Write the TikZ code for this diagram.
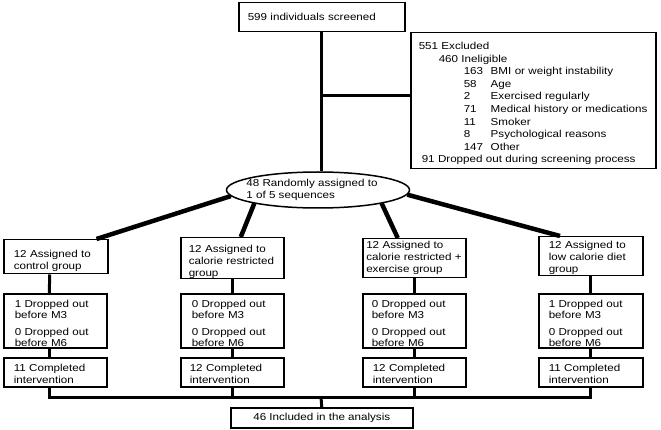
\documentclass[tikz,border=0pt]{standalone}
\usepackage{fontspec}
\setmainfont[FakeStretch=1.15]{Liberation Sans}
\usetikzlibrary{shapes.geometric,calc}
\newcommand\topgap[1]{\rule{0pt}{#1}}
\begin{document}
\begin{tikzpicture}[x=1pt,y=-1pt,
  bx/.style={draw, line width=1.5pt, rectangle, anchor=north west, align=left,
    inner ysep=0pt, font=\fontsize{10.1}{12}\selectfont},
  drop/.style={bx, minimum height=54pt, font=\fontsize{10.1}{11}\selectfont},
  comp/.style={bx, minimum height=29pt},
  conn/.style={line width=3pt},
  diag/.style={line width=4.5pt}]
\useasboundingbox (0,0) rectangle (661,430);

% top
\node[bx, minimum width=166pt, minimum height=29pt, inner xsep=9pt, text width=148pt] (top) at (238,2) {599 individuals screened};

% excluded
\node[bx, minimum width=245pt, minimum height=136pt, inner xsep=8pt, text width=229pt,
  font=\fontsize{10.1}{12.6}\selectfont] (excl) at (410,32) {\topgap{13pt}551 Excluded\\
\hspace*{20pt}460 Ineligible\\
\hspace*{45pt}\makebox[27pt][l]{163}BMI or weight instability\\
\hspace*{45pt}\makebox[27pt][l]{58}Age\\
\hspace*{45pt}\makebox[27pt][l]{2}Exercised regularly\\
\hspace*{45pt}\makebox[27pt][l]{71}Medical history or medications\\
\hspace*{45pt}\makebox[27pt][l]{11}Smoker\\
\hspace*{45pt}\makebox[27pt][l]{8}Psychological reasons\\
\hspace*{45pt}\makebox[27pt][l]{147}Other\\
\hspace*{3pt}91 Dropped out during screening process};

% randomisation
\node[draw, ellipse, line width=1.5pt, minimum width=183pt, minimum height=36pt, inner sep=0pt] (rand) at (318,190) {};
\node[align=left, inner sep=0pt, font=\fontsize{10.1}{12}\selectfont] (randtxt) at ([xshift=-6pt]rand.center) {48 Randomly assigned to\\1 of 5 sequences};

% assigned
\node[bx, minimum width=104pt, minimum height=34pt, inner xsep=10pt, text width=84pt] (a1) at (3,239) {\topgap{16.5pt}12 Assigned to\\control group};
\node[bx, minimum width=103pt, minimum height=38pt, inner xsep=8pt, text width=87pt] (a2) at (180,237) {\topgap{14.5pt}12 Assigned to\\calorie restricted\\group};
\node[bx, minimum width=103pt, minimum height=39pt, inner xsep=3.5pt, text width=96pt] (a3) at (362,238) {12 Assigned to\\calorie restricted +\\exercise group};
\node[bx, minimum width=104pt, minimum height=39pt, inner xsep=10pt, text width=84pt] (a4) at (538,236) {\topgap{10pt}12 Assigned to\\low calorie diet\\group};

% dropped
\node[drop, minimum width=103pt, inner xsep=11pt, text width=81pt] (d1) at (3,293) {\topgap{13pt}1 Dropped out\\before M3\\[6pt]0 Dropped out\\before M6};
\node[drop, minimum width=103pt, inner xsep=11pt, text width=81pt] (d2) at (180,293) {\topgap{13pt}0 Dropped out\\before M3\\[6pt]0 Dropped out\\before M6};
\node[drop, minimum width=103pt, inner xsep=9pt, text width=85pt] (d3) at (362,293) {\topgap{13pt}0 Dropped out\\before M3\\[6pt]0 Dropped out\\before M6};
\node[drop, minimum width=104pt, inner xsep=10pt, text width=84pt] (d4) at (538,293) {\topgap{13pt}1 Dropped out\\before M3\\[6pt]0 Dropped out\\before M6};

% completed
\node[comp, minimum width=103pt, inner xsep=10pt, text width=83pt] (c1) at (3,357) {\topgap{10.5pt}11 Completed\\intervention};
\node[comp, minimum width=103pt, inner xsep=9pt, text width=85pt] (c2) at (180,357) {\topgap{10.5pt}12 Completed\\intervention};
\node[comp, minimum width=103pt, inner xsep=10pt, text width=83pt] (c3) at (362,357) {\topgap{10.5pt}12 Completed\\intervention};
\node[comp, minimum width=104pt, inner xsep=10pt, text width=84pt] (c4) at (538,357) {\topgap{10.5pt}11 Completed\\intervention};

% final
\node[bx, minimum width=182pt, minimum height=20pt, align=center] (final) at (230,407) {46 Included in the analysis};

% connectors
\coordinate (j1) at (321,96);
\coordinate (hb) at (321,397);
\draw[conn] (top.south) -- (top.south |- rand.north);
\draw[conn] (j1) -- (j1 -| excl.west);

\draw[diag] (rand.184) -- ([xshift=-12pt]a1.north east);
\draw[diag] (rand.192) -- ([xshift=8.5pt]a2.north);
\draw[diag] (rand.348) -- ([xshift=-16.5pt]a3.north);
\draw[diag] (rand.357) -- ([xshift=22pt]a4.north west);

\draw[conn] ([xshift=-6pt]a1.south) -- ([xshift=-6pt]d1.north);
\draw[conn] (a2.south) -- (d2.north);
\draw[conn] (a3.south) -- (d3.north);
\draw[conn] (a4.south) -- (d4.north);

\draw[conn] ([xshift=-6pt]d1.south) -- ([xshift=-6pt]c1.north);
\draw[conn] (d2.south) -- (c2.north);
\draw[conn] (d3.south) -- (c3.north);
\draw[conn] (d4.south) -- (c4.north);

\draw[conn] ([xshift=-6pt]c1.south) |- (hb) -| (c4.south);
\draw[conn] (c2.south) -- (c2.south |- hb);
\draw[conn] (c3.south) -- (c3.south |- hb);
\draw[conn] (hb) -- (final.north);
\end{tikzpicture}
\end{document}
